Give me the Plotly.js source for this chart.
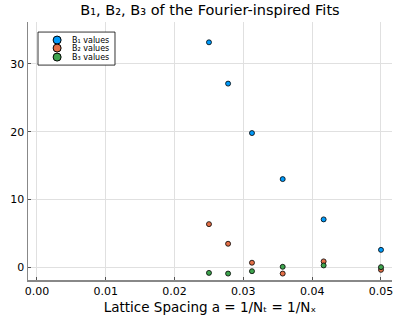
<!DOCTYPE html>
<html>
<head>
<meta charset="utf-8">
<script src="https://cdn.plot.ly/plotly-3.0.1.min.js"></script>
<style>
  body { margin: 0; }
  #plot { width: 400px; height: 320px; }
</style>
</head>
<body>
<div id="plot"></div>
<script>
// lattice spacing a = 1/N
let spacing = [1/40, 1/36, 1/32, 1/28, 1/24, 1/20];

// fit coefficients
let b1Values = [33.2, 27.1, 19.8, 13.0, 7.05, 2.55];
let b2Values = [6.35, 3.45, 0.65, -0.95, 0.85, -0.4];
let b3Values = [-0.85, -0.95, -0.6, 0.05, 0.25, 0.0];

let names = ["B₁ values", "B₂ values", "B₃ values"];
let colors = ["#009AFA", "#E36F47", "#3EA44E"];

let xTicks = [0, 0.01, 0.02, 0.03, 0.04, 0.05];
let xTickText = ["0.00", "0.01", "0.02", "0.03", "0.04", "0.05"];
let yTicks = [0, 10, 20, 30];

function makeTrace(vals, i) {
    return {
        x: spacing,
        y: vals,
        name: names[i],
        type: "scatter",
        mode: "markers",
        showlegend: false,
        marker: {
            color: colors[i],
            size: 5,
            line: {color: "#000000", width: 0.8}
        }
    };
}

let data = [makeTrace(b1Values, 0), makeTrace(b2Values, 1), makeTrace(b3Values, 2)];

// hand-made legend, plotly's own entries are too tall for this box
let legendShapes = [{
    type: "rect", xref: "paper", yref: "paper",
    x0: 0.0275, x1: 0.239, y0: 0.833, y1: 0.961,
    line: {color: "#000000", width: 0.8}, fillcolor: "#ffffff"
}];
let legendNotes = [];
let rowY = [0.930, 0.899, 0.864];
names.forEach(function(n, i) {
    legendShapes.push({
        type: "circle", xref: "paper", yref: "paper",
        xsizemode: "pixel", ysizemode: "pixel",
        xanchor: 0.08, yanchor: rowY[i],
        x0: -4, x1: 4, y0: -4, y1: 4,
        fillcolor: colors[i],
        line: {color: "#000000", width: 1}
    });
    legendNotes.push({
        text: n, xref: "paper", yref: "paper",
        x: 0.116, y: rowY[i], xanchor: "left", yanchor: "middle",
        showarrow: false, font: {size: 8}
    });
});

let layout = {
    width: 400,
    height: 320,
    margin: {l: 28, r: 8, t: 22, b: 40, pad: 0},
    paper_bgcolor: "#ffffff",
    plot_bgcolor: "#ffffff",
    font: {family: "DejaVu Sans", color: "#000000"},
    title: {
        text: "B₁, B₂, B₃ of the Fourier-inspired Fits",
        font: {size: 14.5, family: "DejaVu Sans"},
        x: 0.525, xanchor: "center",
        y: 0.968, yanchor: "middle"
    },
    showlegend: false,
    shapes: legendShapes,
    annotations: legendNotes,
    xaxis: {
        range: [-0.0013, 0.0516],
        tickvals: xTicks,
        ticktext: xTickText,
        tickfont: {size: 11},
        showgrid: true,
        gridcolor: "#e0e0e0",
        gridwidth: 1,
        zeroline: false,
        showline: true,
        linecolor: "#888888",
        linewidth: 1.5,
        ticks: "inside",
        ticklen: 3,
        tickcolor: "#555555",
        title: {text: "Lattice Spacing a = 1/Nₜ = 1/Nₓ", font: {size: 13.5}, standoff: 6}
    },
    yaxis: {
        range: [-1.9, 36.2],
        tickvals: yTicks,
        tickfont: {size: 11},
        showgrid: true,
        gridcolor: "#e0e0e0",
        gridwidth: 1,
        zeroline: false,
        showline: true,
        linecolor: "#888888",
        linewidth: 1.5,
        ticks: "inside",
        ticklen: 3,
        tickcolor: "#555555"
    }
};

Plotly.newPlot("plot", data, layout, {displayModeBar: false, staticPlot: true});
</script>
</body>
</html>
